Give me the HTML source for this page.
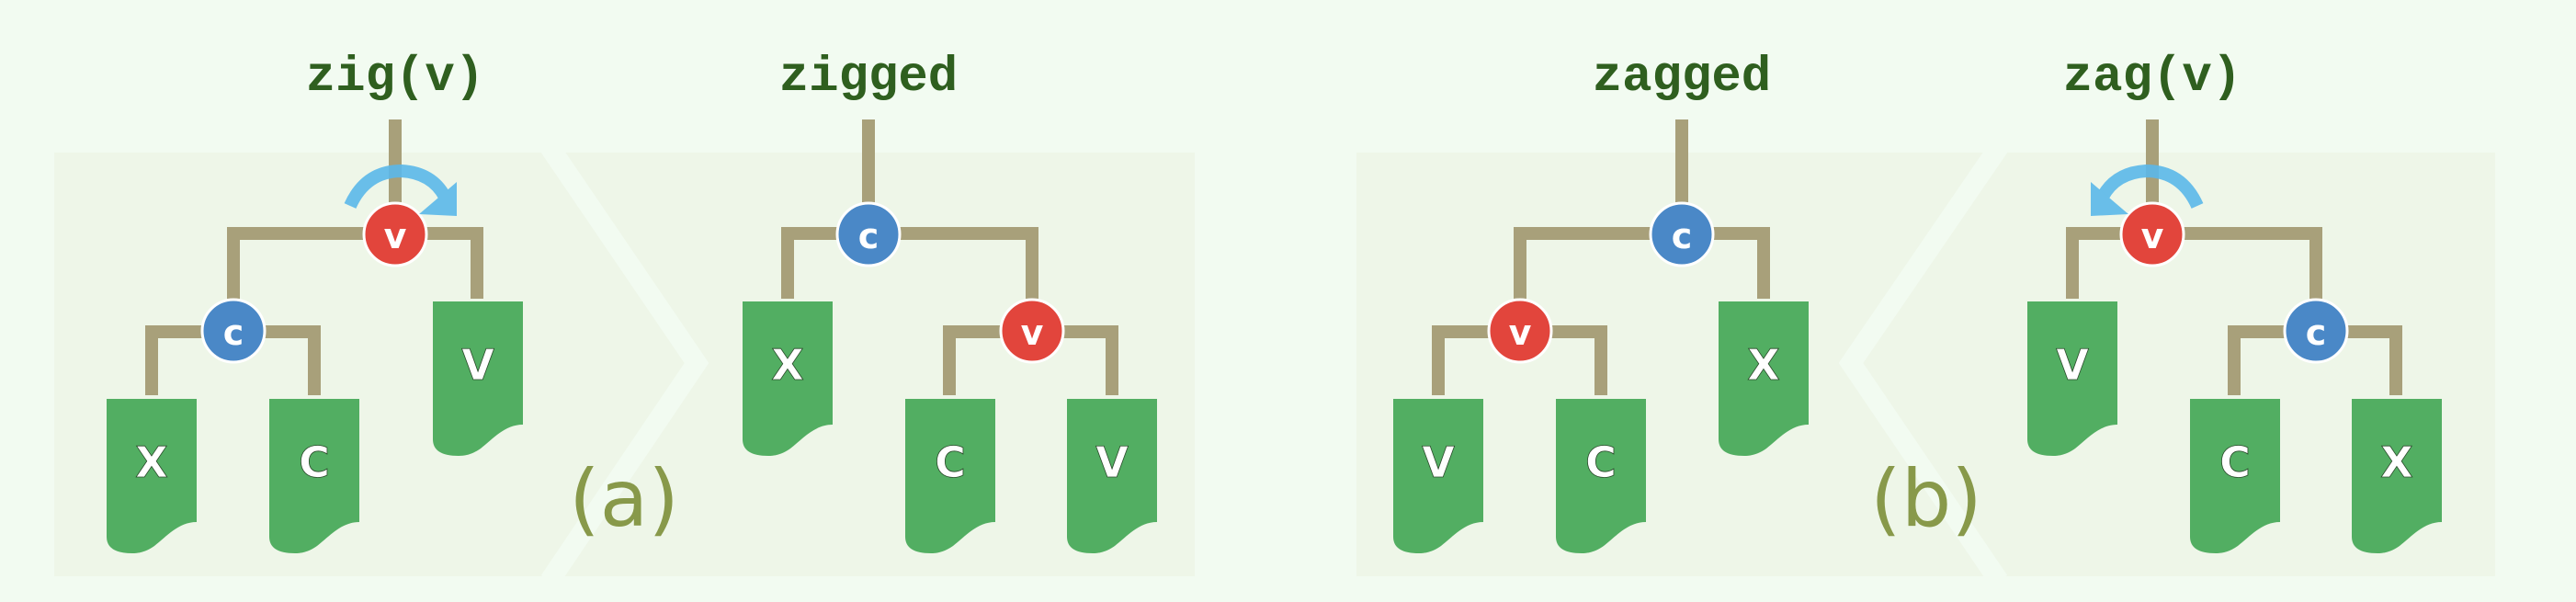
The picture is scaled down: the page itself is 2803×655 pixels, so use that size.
<!DOCTYPE html>
<html><head><meta charset="utf-8"><style>
html,body{margin:0;padding:0;background:#f2fbf1;}
svg{display:block;}
.lbl{font-family:"Liberation Mono",monospace;font-weight:bold;font-size:54px;fill:#2f5f1f;text-anchor:middle;}
.nd{font-family:"DejaVu Sans",sans-serif;font-weight:bold;font-size:38px;fill:#fff;text-anchor:middle;dominant-baseline:central;}
.lf{font-family:"DejaVu Sans",sans-serif;font-weight:bold;font-size:46px;fill:#fff;stroke:#2b4a2b;stroke-width:0.8;text-anchor:middle;dominant-baseline:central;}
.tag{font-family:"DejaVu Sans",sans-serif;font-size:86px;fill:#88994a;text-anchor:middle;}
.br{fill:none;stroke:#a8a07a;stroke-width:14;stroke-linejoin:miter;}
</style></head><body>
<svg width="2803" height="655" viewBox="0 0 2803 655" xmlns="http://www.w3.org/2000/svg">
<defs>
<path id="leaf" d="M0,0 H98 V134 C78,134 65,150 52,160 C42,167 34,168 28,168 Q0,168 0,150 Z" fill="#52ae62"/>
</defs>
<rect width="2803" height="655" fill="#f2fbf1"/>
<rect x="59" y="166" width="1241" height="461" fill="#eef6e8"/>
<rect x="1476" y="166" width="1239" height="461" fill="#eef6e8"/>
<polyline points="598,160 758,395 598,632" fill="none" stroke="#f2fbf1" stroke-width="22"/>
<polyline points="2175,160 2014,395 2175,632" fill="none" stroke="#f2fbf1" stroke-width="22"/>

<text class="lbl" x="430" y="98">zig(v)</text>
<text class="lbl" x="945" y="98">zigged</text>
<text class="lbl" x="1830" y="98">zagged</text>
<text class="lbl" x="2342" y="98">zag(v)</text>
<text class="tag" x="679" y="572">(a)</text>
<text class="tag" x="2096" y="572">(b)</text>

<line class="br" x1="430" y1="130" x2="430" y2="225"/>
<path class="br" d="M254,325 V254 H519 V325"/>
<path class="br" d="M165,430 V361 H342 V430"/>
<use href="#leaf" x="116" y="434"/><text class="lf" x="165" y="503">X</text>
<use href="#leaf" x="293" y="434"/><text class="lf" x="342" y="503">C</text>
<use href="#leaf" x="471" y="328"/><text class="lf" x="520" y="397">V</text>
<circle cx="430" cy="255" r="34" fill="#e2453c" stroke="#fff" stroke-width="3"/><text class="nd" x="430" y="257">v</text>
<circle cx="254" cy="360" r="34" fill="#4a88c7" stroke="#fff" stroke-width="3"/><text class="nd" x="254" y="362">c</text>
<g opacity="0.9">
<path d="M381,224 Q398,186 437,186 Q470,188 484,214" fill="none" stroke="#5bb8ea" stroke-width="14"/>
<polygon points="456,233 497,198 497,235" fill="#5bb8ea"/>
</g>

<line class="br" x1="945" y1="130" x2="945" y2="225"/>
<path class="br" d="M857,325 V254 H1123 V325"/>
<path class="br" d="M1033,430 V361 H1210 V430"/>
<use href="#leaf" x="808" y="328"/><text class="lf" x="857" y="397">X</text>
<use href="#leaf" x="985" y="434"/><text class="lf" x="1034" y="503">C</text>
<use href="#leaf" x="1161" y="434"/><text class="lf" x="1210" y="503">V</text>
<circle cx="945" cy="255" r="34" fill="#4a88c7" stroke="#fff" stroke-width="3"/><text class="nd" x="945" y="257">c</text>
<circle cx="1123" cy="360" r="34" fill="#e2453c" stroke="#fff" stroke-width="3"/><text class="nd" x="1123" y="362">v</text>

<line class="br" x1="1830" y1="130" x2="1830" y2="225"/>
<path class="br" d="M1654,325 V254 H1919 V325"/>
<path class="br" d="M1565,430 V361 H1742 V430"/>
<use href="#leaf" x="1516" y="434"/><text class="lf" x="1565" y="503">V</text>
<use href="#leaf" x="1693" y="434"/><text class="lf" x="1742" y="503">C</text>
<use href="#leaf" x="1870" y="328"/><text class="lf" x="1919" y="397">X</text>
<circle cx="1830" cy="255" r="34" fill="#4a88c7" stroke="#fff" stroke-width="3"/><text class="nd" x="1830" y="257">c</text>
<circle cx="1654" cy="360" r="34" fill="#e2453c" stroke="#fff" stroke-width="3"/><text class="nd" x="1654" y="362">v</text>

<line class="br" x1="2342" y1="130" x2="2342" y2="225"/>
<path class="br" d="M2255,325 V254 H2520 V325"/>
<path class="br" d="M2431,430 V361 H2607 V430"/>
<use href="#leaf" x="2206" y="328"/><text class="lf" x="2255" y="397">V</text>
<use href="#leaf" x="2383" y="434"/><text class="lf" x="2432" y="503">C</text>
<use href="#leaf" x="2559" y="434"/><text class="lf" x="2608" y="503">X</text>
<circle cx="2342" cy="255" r="34" fill="#e2453c" stroke="#fff" stroke-width="3"/><text class="nd" x="2342" y="257">v</text>
<circle cx="2520" cy="360" r="34" fill="#4a88c7" stroke="#fff" stroke-width="3"/><text class="nd" x="2520" y="362">c</text>
<g transform="translate(2772,0) scale(-1,1)" opacity="0.9">
<path d="M381,224 Q398,186 437,186 Q470,188 484,214" fill="none" stroke="#5bb8ea" stroke-width="14"/>
<polygon points="456,233 497,198 497,235" fill="#5bb8ea"/>
</g>
</svg>
</body></html>
